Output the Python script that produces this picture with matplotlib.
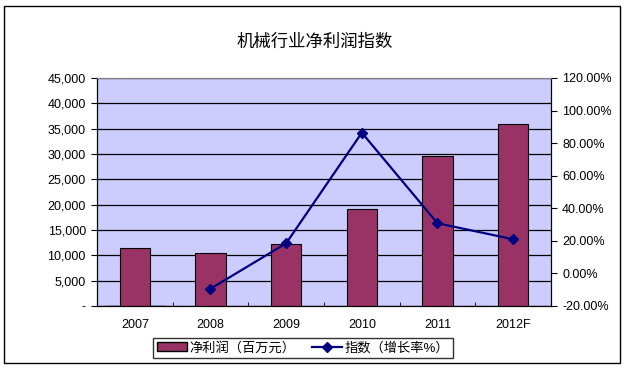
import numpy as np
import matplotlib
matplotlib.use('Agg')
import matplotlib.pyplot as plt
from matplotlib.patches import Rectangle
from matplotlib.ticker import FuncFormatter, FixedLocator

plt.rcParams['font.family'] = ['Liberation Sans', 'Noto Sans CJK SC', 'DejaVu Sans']

years = ['2007', '2008', '2009', '2010', '2011', '2012F']
profit = [11400, 10400, 12200, 19100, 29600, 35900]
idx_years = ['2008', '2009', '2010', '2011', '2012F']
growth = [-9.4, 18.5, 86.4, 30.8, 21.0]

fig = plt.figure(figsize=(6.25, 3.68), dpi=100)
fig.patch.set_facecolor('white')
# outer frame
fig.add_artist(Rectangle((4/625, 5/368), 616/625, 357/368, transform=fig.transFigure,
                         fill=False, edgecolor='black', linewidth=1))

ax = fig.add_axes([97/625, 62/368, 454/625, 228/368])
ax.set_facecolor('#CCCCFF')
x = np.arange(len(years))
ax.bar(x, profit, width=0.4, color='#993366', edgecolor='black', linewidth=0.8, zorder=3)
ax.set_xlim(-0.5, len(years) - 0.5)
ax.set_ylim(0, 45000)
ax.set_yticks(np.arange(0, 45001, 5000))
ax.yaxis.set_major_formatter(FuncFormatter(lambda v, p: '-' if v == 0 else f'{int(v):,}'))
ax.grid(axis='y', color='black', linewidth=0.9, zorder=1)
ax.set_axisbelow(True)
ax.set_xticks(x)
ax.set_xticklabels(years)
ax.tick_params(axis='x', length=0, labelsize=9, pad=9)
ax.xaxis.set_minor_locator(FixedLocator(np.arange(0.5, len(years) - 1, 1)))
ax.tick_params(axis='x', which='minor', direction='in', length=3)
ax.tick_params(axis='y', length=4, labelsize=9, pad=4)
for s in ['left', 'bottom']:
    ax.spines[s].set_color('black')
ax.spines['top'].set_color('#808080')

ax2 = ax.twinx()
xi = [years.index(y) for y in idx_years]
ax2.plot(xi, growth, color='#000080', marker='D', markersize=5, linewidth=1.6, zorder=4)
ax2.set_ylim(-20, 120)
ax2.set_yticks(np.arange(-20, 121, 20))
ax2.yaxis.set_major_formatter(FuncFormatter(lambda v, p: f'{v:.2f}%'))
ax2.tick_params(axis='y', length=4, labelsize=9, pad=4)
ax2.spines['right'].set_color('black')
ax2.spines['top'].set_color('#808080')

fig.text(315/625, 1 - 42/368, '机械行业净利润指数', ha='center', va='center', fontsize=12.5)

h1 = ax.bar([0], [0], color='#993366', edgecolor='black')[0]
h2, = ax.plot([], [], color='#000080', marker='D', markersize=5, linewidth=1.6)
leg = fig.legend([h1, h2], ['净利润（百万元）', '指数（增长率%）'], loc='center',
                 bbox_to_anchor=(303/625, 1 - 348/368), ncol=2, fontsize=9.5,
                 frameon=True, fancybox=False, edgecolor='black', handlelength=2.3,
                 columnspacing=1.2, handletextpad=0.2, borderpad=0.3)
leg.get_frame().set_linewidth(1)

fig.savefig('out.png', dpi=100)
